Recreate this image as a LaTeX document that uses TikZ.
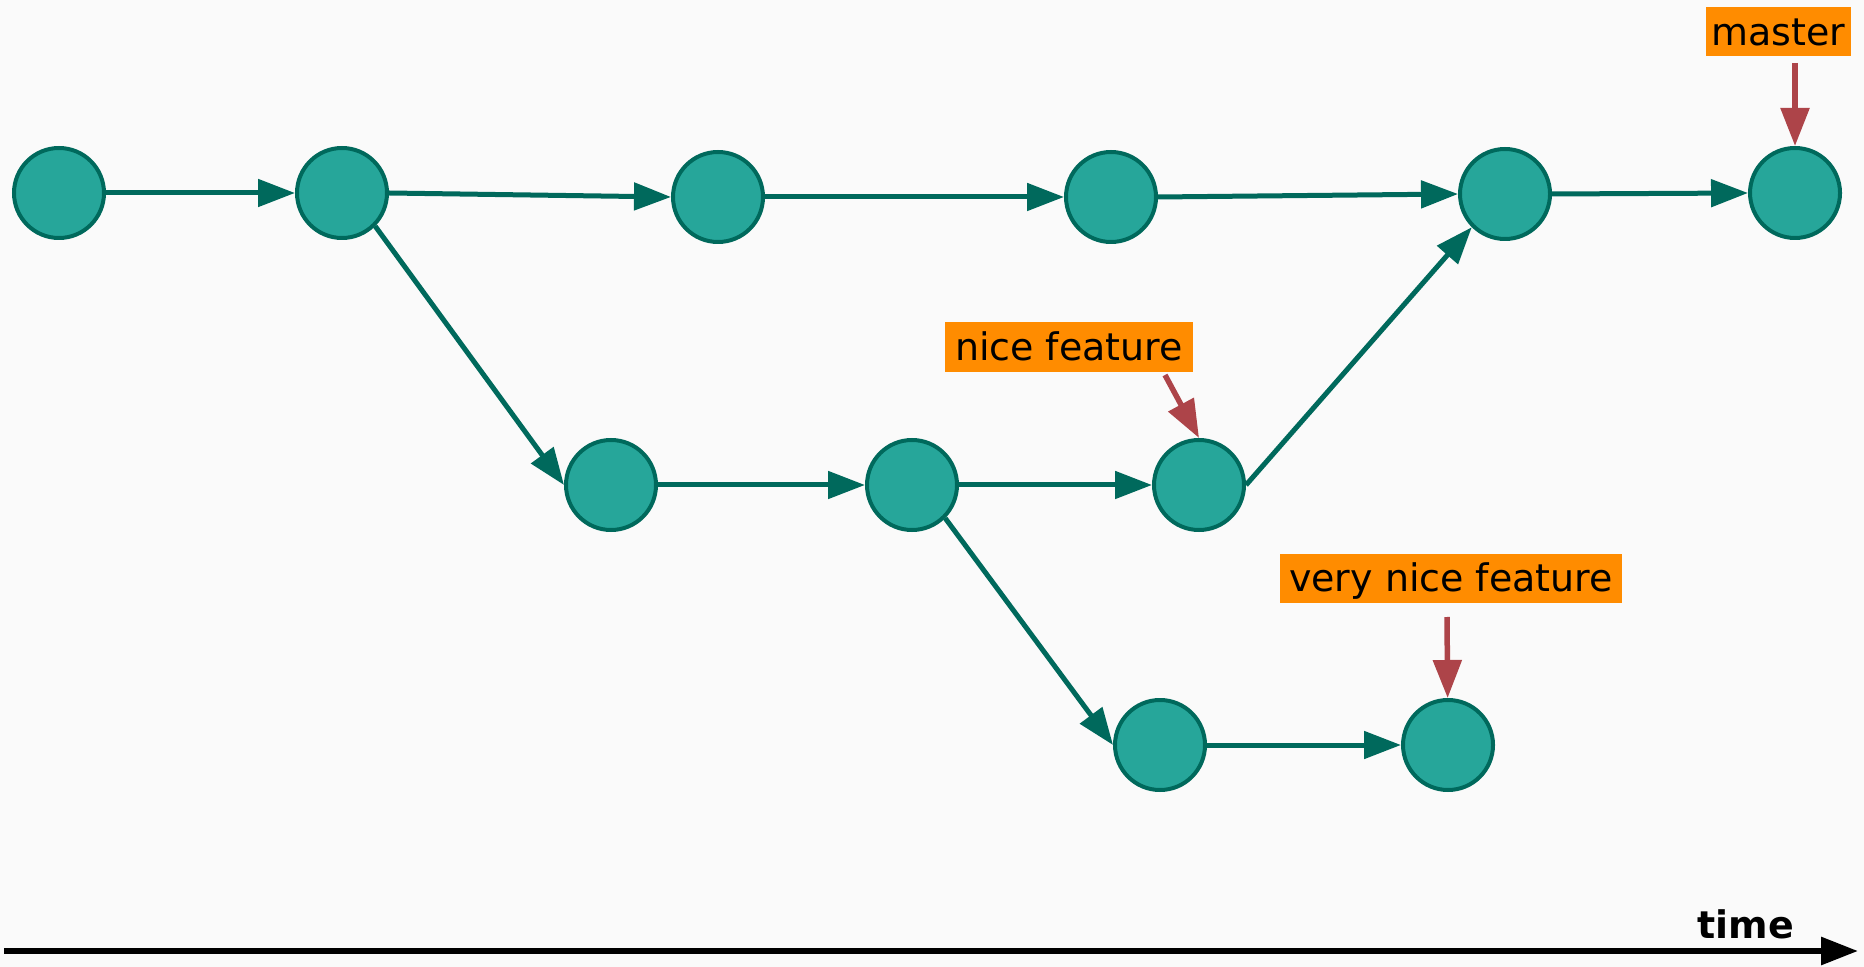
\documentclass[tikz,border=0pt]{standalone}
\usepackage{fontspec}
\setmainfont{DejaVu Sans}
\usetikzlibrary{arrows.meta}

\definecolor{commitfill}{HTML}{26A69A}
\definecolor{commitline}{HTML}{00695C}
\definecolor{tagfill}{HTML}{FF8C00}
\definecolor{tipred}{HTML}{AD4449}
\definecolor{paper}{HTML}{FAFAFA}

\begin{document}
\begin{tikzpicture}[x=0.1mm,y=-0.1mm,
        commit/.style={circle,draw=commitline,fill=commitfill,line width=0.4mm,minimum size=9mm,inner sep=0pt},
        tag/.style={fill=tagfill,inner sep=0pt,text height=0.85em,text depth=0.07em,font=\fontsize{10.8pt}{13pt}\selectfont},
        branch/.style={color=commitline,line width=0.5mm,-{Triangle[length=3.7mm,width=2.7mm]}},
        pointer/.style={color=tipred,line width=0.55mm,-{Triangle[length=3.8mm,width=2.8mm]}},
        timeline/.style={color=black,line width=0.6mm,-{Triangle[length=3.7mm,width=2.7mm]}}]
                \useasboundingbox (0,0) rectangle (1864,967);
                \fill[paper] (0,0) rectangle (1864,967);

                \node[commit] (m1) at (59,193)   {};
                \node[commit] (m2) at (342,193)  {};
                \node[commit] (m3) at (718,197)  {};
                \node[commit] (m4) at (1111,197) {};
                \node[commit] (m5) at (1505,194) {};
                \node[commit] (m6) at (1795,193) {};
                \node[commit] (f1) at (611,485)  {};
                \node[commit] (f2) at (912,485)  {};
                \node[commit] (f3) at (1199,485) {};
                \node[commit] (v1) at (1160,745) {};
                \node[commit] (v2) at (1448,745) {};

                \path[branch]
                (m1.east) edge (m2.west)
                (m2.east) edge (m3.west)
                (m3.east) edge (m4.west)
                (m4.east) edge (m5.west)
                (m5.east) edge (m6.west)
                (m2.south east) edge (f1.west)
                (f1.east) edge (f2.west)
                (f2.east) edge (f3.west)
                (f3.east) edge (m5.south west)
                (f2.south east) edge (v1.west)
                (v1.east) edge (v2.west);

                \node[tag,minimum width=14.5mm,minimum height=4.9mm] (master) at (1778,32) {master};
                \node[tag,minimum width=24.8mm,minimum height=5mm] (nice) at (1069,347) {nice feature};
                \node[tag,minimum width=34.2mm,minimum height=4.9mm] (verynice) at (1451,578) {very nice feature};

                \coordinate (pm) at (1795,63);
                \coordinate (pn) at (1165,375);
                \coordinate (pv) at (1447,617);
                \draw[pointer] (pm) -- (m6);
                \draw[pointer] (pn) -- (f3.north);
                \draw[pointer] (pv) -- (v2);

                \coordinate (t0) at (4,951);
                \coordinate (t1) at (1858,951);
                \draw[timeline] (t0) -- (t1);
                \node[anchor=base,font=\fontsize{10.8pt}{13pt}\selectfont\bfseries] (time) at (1746,938) {time};
            \end{tikzpicture}
\end{document}
